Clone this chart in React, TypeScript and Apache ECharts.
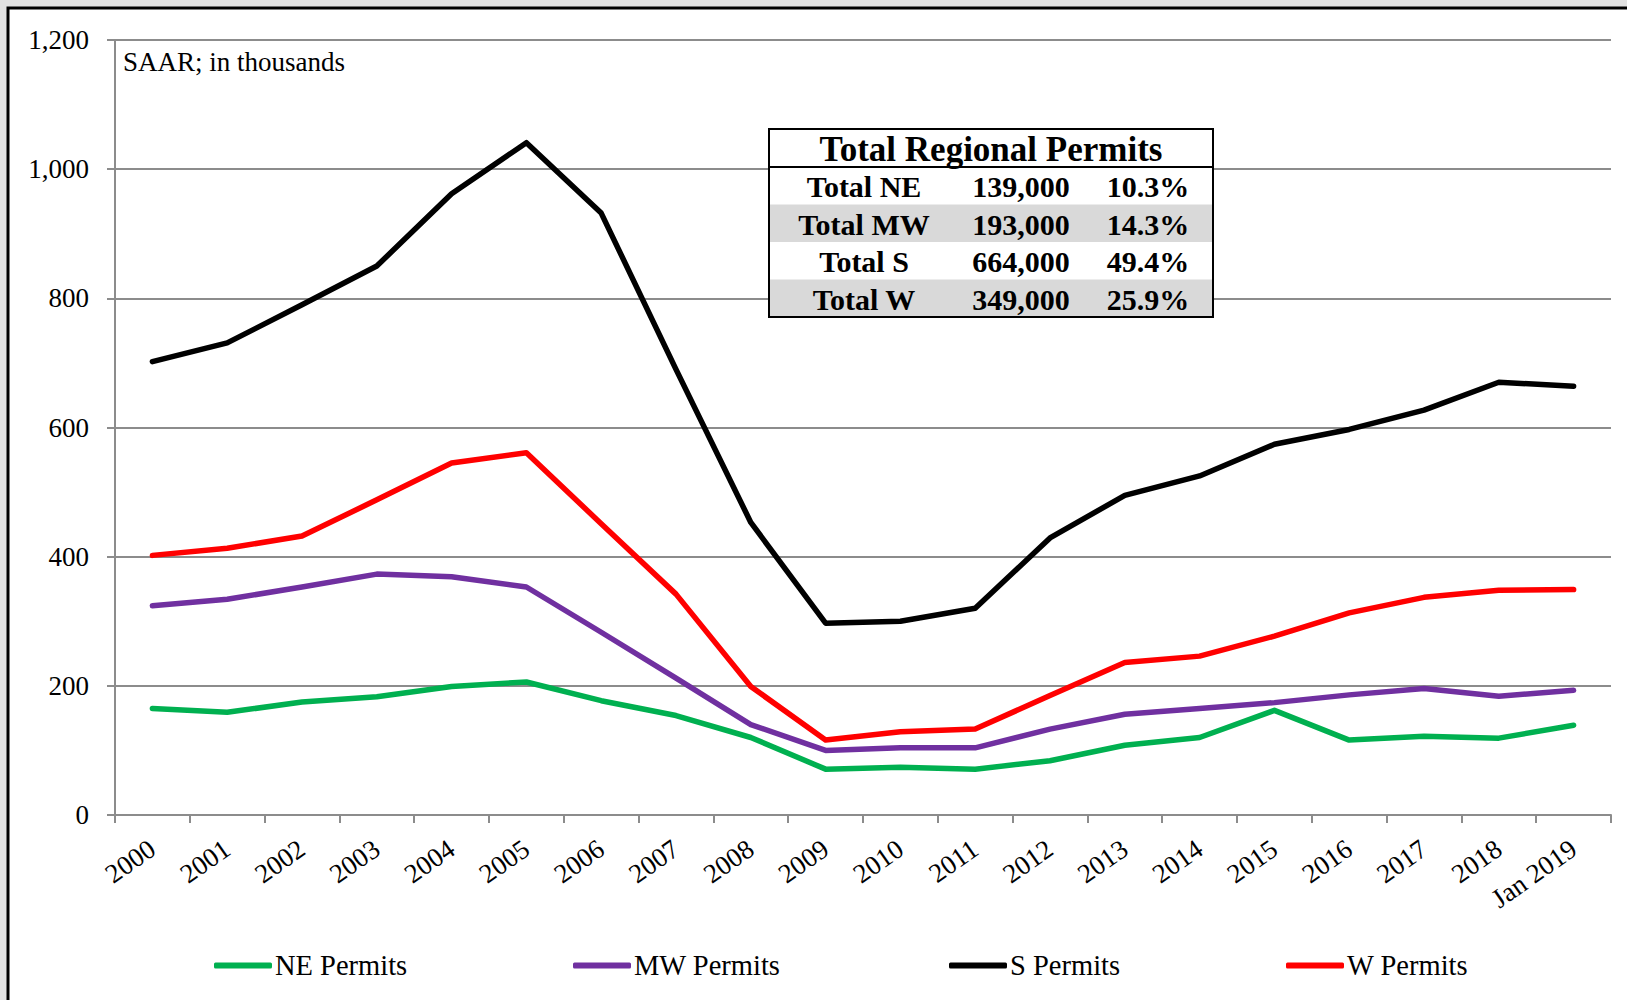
import React, { useEffect, useRef } from "react";
import * as echarts from "echarts";

const categories = [
  "2000", "2001", "2002", "2003", "2004", "2005", "2006", "2007", "2008", "2009",
  "2010", "2011", "2012", "2013", "2014", "2015", "2016", "2017", "2018", "Jan 2019",
];
const nePermits = [165, 159, 175, 183, 199, 206, 177, 154, 120, 71, 74, 71, 84, 108, 120, 162, 116, 122, 119, 139];
const mwPermits = [324, 334, 353, 373, 369, 353, 283, 212, 140, 100, 104, 104, 133, 156, 165, 174, 186, 196, 184, 193];
const sPermits = [702, 731, 790, 850, 962, 1041, 932, 690, 453, 297, 300, 320, 429, 495, 525, 574, 597, 627, 670, 664];
const wPermits = [402, 413, 432, 488, 545, 561, 451, 342, 199, 116, 129, 133, 185, 236, 246, 277, 313, 337, 348, 349];

const seriesNames = ["NE Permits", "MW Permits", "S Permits", "W Permits"];
const seriesColors = ["#00B050", "#7030A0", "#000000", "#FF0000"];

const tableTitle = "Total Regional Permits";
const tableLabels = ["Total NE", "Total MW", "Total S", "Total W"];
const tableTotals = ["139,000", "193,000", "664,000", "349,000"];
const tableShares = ["10.3%", "14.3%", "49.4%", "25.9%"];

const yTicks = { min: 0, max: 1200, interval: 200 };
const unitNote = "SAAR; in thousands";

const FONT = "'Liberation Serif', 'Times New Roman', serif";

export default function App() {
  const ref = useRef<HTMLDivElement>(null);

  useEffect(() => {
    if (!ref.current) return;
    const chart = echarts.init(ref.current, null, { renderer: "svg" });

    const dataSets = [nePermits, mwPermits, sPermits, wPermits];
    const legendLefts = [209, 568, 944, 1281];

    // table geometry
    const tX = 769, tY = 129, tW = 444, headH = 38, rowH = 37.5;
    const TZ = 20;
    const tableEls: any[] = [];
    tableEls.push({
      type: "rect",
      z: TZ,
      shape: { x: tX, y: tY, width: tW, height: headH + 4 * rowH },
      style: { fill: "#FFFFFF" },
    });
    tableLabels.forEach((lab, i) => {
      const y = tY + headH + i * rowH;
      if (i % 2 === 1) {
        tableEls.push({
          type: "rect",
          z: TZ + 1,
          shape: { x: tX, y, width: tW, height: rowH },
          style: { fill: "#D9D9D9" },
        });
      }
      const cy = y + rowH / 2 + 1;
      tableEls.push({
        type: "text",
        z: TZ + 3,
        x: 864, y: cy,
        style: { text: lab, font: `bold 30px ${FONT}`, fill: "#000", align: "center", verticalAlign: "middle" },
      });
      tableEls.push({
        type: "text",
        z: TZ + 3,
        x: 1021, y: cy,
        style: { text: tableTotals[i], font: `bold 30px ${FONT}`, fill: "#000", align: "center", verticalAlign: "middle" },
      });
      tableEls.push({
        type: "text",
        z: TZ + 3,
        x: 1148, y: cy,
        style: { text: tableShares[i], font: `bold 30px ${FONT}`, fill: "#000", align: "center", verticalAlign: "middle" },
      });
    });
    tableEls.push({
      type: "text",
      z: TZ + 3,
      x: tX + tW / 2, y: tY + headH / 2 + 1,
      style: { text: tableTitle, font: `bold 35px ${FONT}`, fill: "#000", align: "center", verticalAlign: "middle" },
    });
    tableEls.push({
      type: "line",
      z: TZ + 4,
      shape: { x1: tX, y1: tY + headH, x2: tX + tW, y2: tY + headH },
      style: { stroke: "#000", lineWidth: 2 },
    });
    tableEls.push({
      type: "rect",
      z: TZ + 4,
      shape: { x: tX, y: tY, width: tW, height: headH + 4 * rowH },
      style: { fill: "none", stroke: "#000", lineWidth: 2 },
    });

    const option: any = {
      animation: false,
      backgroundColor: "transparent",
      textStyle: { fontFamily: FONT },
      grid: { left: 115, top: 40, width: 1496, height: 775, containLabel: false },
      xAxis: {
        type: "category",
        data: categories,
        boundaryGap: true,
        axisLine: { show: true, lineStyle: { color: "#8C8C8C", width: 2 } },
        axisTick: { show: true, alignWithLabel: false, length: 8, lineStyle: { color: "#8C8C8C", width: 2 } },
        axisLabel: {
          rotate: 35,
          interval: 0,
          margin: 31,
          color: "#000",
          fontSize: 27,
          fontFamily: FONT,
        },
        splitLine: { show: false },
      },
      yAxis: {
        type: "value",
        min: yTicks.min,
        max: yTicks.max,
        interval: yTicks.interval,
        axisLine: { show: true, lineStyle: { color: "#8C8C8C", width: 2 } },
        axisTick: { show: true, length: 8, lineStyle: { color: "#8C8C8C", width: 2 } },
        axisLabel: {
          margin: 26,
          color: "#000",
          fontSize: 27,
          fontFamily: FONT,
          formatter: (v: number) => v.toLocaleString("en-US"),
        },
        splitLine: { show: true, lineStyle: { color: "#8C8C8C", width: 2 } },
      },
      legend: seriesNames.map((n, i) => ({
        data: [n],
        left: legendLefts[i],
        top: 946,
        icon: "roundRect",
        itemWidth: 58,
        itemHeight: 6,
        textStyle: { fontSize: 28.5, color: "#000", fontFamily: FONT, padding: [0, 0, 0, -2] },
      })),
      series: seriesNames.map((n, i) => ({
        name: n,
        type: "line",
        data: dataSets[i],
        showSymbol: false,
        symbol: "none",
        color: seriesColors[i],
        lineStyle: { color: seriesColors[i], width: 5.5, cap: "round", join: "round" },
        z: 3,
      })),
      graphic: [
        {
          type: "rect",
          z: -10,
          silent: true,
          shape: { x: 0, y: 0, width: 1627, height: 1000 },
          style: { fill: "#E2E2E2" },
        },
        {
          type: "rect",
          z: -9,
          silent: true,
          shape: { x: 8, y: 8, width: 1640, height: 1010 },
          style: { fill: "#FFFFFF", stroke: "#000000", lineWidth: 3 },
        },
        {
          type: "text",
          left: 123,
          top: 48,
          z: 5,
          style: { text: unitNote, font: `27px ${FONT}`, fill: "#000" },
        },
        ...tableEls,
      ],
    };

    chart.setOption(option);
    return () => chart.dispose();
  }, []);

  return (
    <div
      ref={ref}
      style={{ position: "absolute", left: 0, top: 0, width: 1627, height: 1000 }}
    />
  );
}
